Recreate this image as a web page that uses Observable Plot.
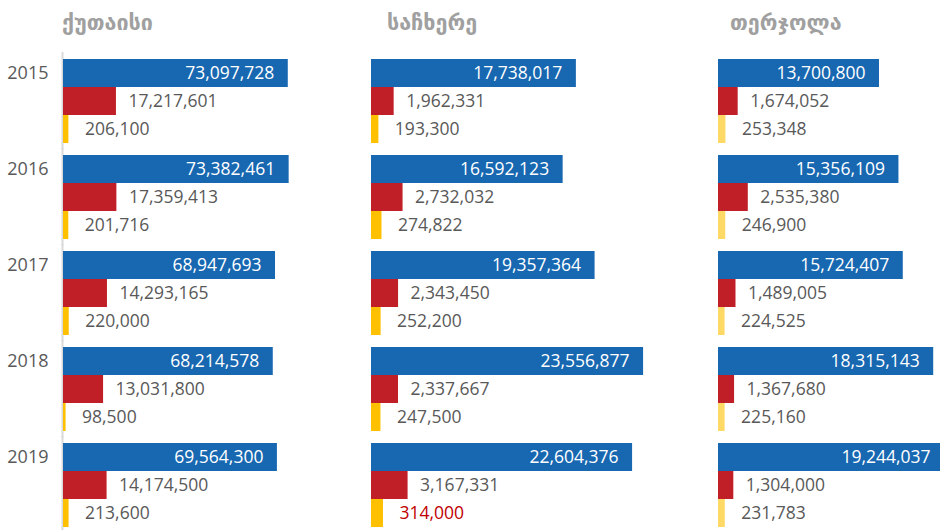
<!DOCTYPE html>
<html><head><meta charset="utf-8">
<script src="https://cdn.jsdelivr.net/npm/d3@7"></script>
<script src="https://cdn.jsdelivr.net/npm/@observablehq/plot@0.6"></script>
<style>
html,body{margin:0;padding:0;background:#fff;}
body{width:940px;height:530px;overflow:hidden;position:relative;font-family:"Open Sans",sans-serif;}
.panel{position:absolute;top:50px;}
.panel svg{max-width:none !important;}
.title{position:absolute;top:10px;font-family:"DejaVu Sans",sans-serif;font-weight:bold;font-size:21.5px;color:#a0a0a0;white-space:nowrap;}
</style></head><body>
<script>
// ---- data ----
const years = ["2015","2016","2017","2018","2019"];
const municipalities = ["ქუთაისი","საჩხერე","თერჯოლა"];
const kutaisiBlue   = [73097728,73382461,68947693,68214578,69564300];
const kutaisiRed    = [17217601,17359413,14293165,13031800,14174500];
const kutaisiYellow = [206100,201716,220000,98500,213600];
const sachkhereBlue   = [17738017,16592123,19357364,23556877,22604376];
const sachkhereRed    = [1962331,2732032,2343450,2337667,3167331];
const sachkhereYellow = [193300,274822,252200,247500,314000];
const terjolaBlue   = [13700800,15356109,15724407,18315143,19244037];
const terjolaRed    = [1674052,2535380,1489005,1367680,1304000];
const terjolaYellow = [253348,246900,224525,225160,231783];
const highlighted = [["საჩხერე","2019","yellow"]];

// ---- layout / styles ----
const panels = [
  {name:municipalities[0], blue:kutaisiBlue, red:kutaisiRed, yellow:kutaisiYellow,
   left:0, width:371, marginLeft:63, marginRight:62, xMax:80e6, yellowFactor:8.5, yellowColor:"#ffc000", titleLeft:62, years:true, axisLine:true},
  {name:municipalities[1], blue:sachkhereBlue, red:sachkhereRed, yellow:sachkhereYellow,
   left:371, width:347, marginLeft:0, marginRight:58.25, xMax:25e6, yellowFactor:3.3, yellowColor:"#ffc000", titleLeft:387},
  {name:municipalities[2], blue:terjolaBlue, red:terjolaRed, yellow:terjolaYellow,
   left:718, width:235, marginLeft:0, marginRight:0, xMax:20e6, yellowFactor:2.5, yellowColor:"#ffd966", titleLeft:730}
];
const BLUE = "#1767b1", RED = "#c01f28", GRAY = "#595959", HIL = "#c00000";
const fmt = d3.format(",");

for (const p of panels) {
  const rows = years.flatMap((year, i) => [
    {year, series:"blue", value:p.blue[i]},
    {year, series:"red", value:p.red[i]},
    {year, series:"yellow", value:p.yellow[i]}
  ]);
  const isHi = d => highlighted.some(h => h[0] === p.name && h[1] === d.year && h[2] === d.series);
  const blue = rows.filter(d => d.series === "blue");
  const red = rows.filter(d => d.series === "red");
  const yellow = rows.filter(d => d.series === "yellow");
  const yx = d => d.value * p.yellowFactor;

  const marks = [
    Plot.barX(blue, {x:"value", y:"series", fy:"year", fill:BLUE}),
    Plot.barX(red, {x:"value", y:"series", fy:"year", fill:RED}),
    Plot.barX(yellow, {x:yx, y:"series", fy:"year", fill:p.yellowColor}),
    Plot.text(blue, {x:"value", y:"series", fy:"year", text:d => fmt(d.value), textAnchor:"end", dx:-14, fill:"white", fontSize:17.5}),
    Plot.text(red, {x:"value", y:"series", fy:"year", text:d => fmt(d.value), textAnchor:"start", dx:12, fill:GRAY, fontSize:17.5}),
    Plot.text(yellow, {x:yx, y:"series", fy:"year", text:d => fmt(d.value), textAnchor:"start", dx:16, fill:d => isHi(d) ? HIL : GRAY, fontSize:17.5})
  ];
  if (p.years) {
    marks.push(Plot.text(blue, {x:() => 0, y:"series", fy:"year", text:"year", textAnchor:"end", dx:-15, fill:GRAY, fontSize:18}));
  }
  if (p.axisLine) {
    marks.unshift(Plot.ruleX([0], {stroke:"#d9d9d9", strokeWidth:2, dx:-1, insetTop:-6, insetBottom:-6}));
  }

  const chart = Plot.plot({
    width:p.width, height:480,
    marginLeft:p.marginLeft, marginRight:p.marginRight, marginTop:6, marginBottom:2,
    style:{fontFamily:"'Open Sans', sans-serif", background:"transparent", maxWidth:"none"},
    x:{domain:[0, p.xMax], axis:null},
    y:{domain:["blue","red","yellow"], axis:null, padding:0},
    fy:{domain:years, axis:null, paddingInner:0.116, paddingOuter:0},
    marks
  });
  const wrap = document.createElement("div");
  wrap.className = "panel";
  wrap.style.left = p.left + "px";
  wrap.style.width = p.width + "px";
  wrap.appendChild(chart);
  document.body.appendChild(wrap);

  const t = document.createElement("div");
  t.className = "title";
  t.style.left = p.titleLeft + "px";
  t.textContent = p.name;
  document.body.appendChild(t);
}
</script>
</body></html>
